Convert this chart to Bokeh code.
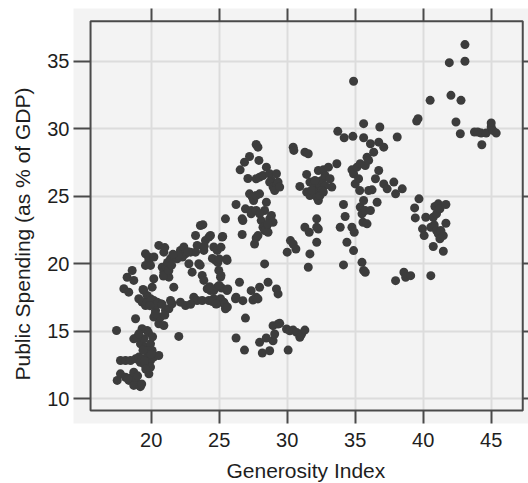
from bokeh.plotting import figure
from bokeh.models import FixedTicker, LinearAxis, BoxAnnotation, Range1d, Grid, Title
from bokeh.embed import file_html
from bokeh.resources import INLINE

generosity = [
    17.50, 17.74, 18.11, 18.36, 18.60, 18.72, 18.85, 19.09, 18.72, 17.74,
    18.11, 18.48, 18.85, 19.09, 19.33, 19.70, 19.95, 20.19, 20.56, 19.95,
    19.83, 19.46, 19.21, 19.46, 19.70, 19.33, 19.58, 19.95, 20.07, 19.70,
    18.72, 18.97, 19.09, 22.03, 17.45, 18.85, 19.20, 19.20, 19.50, 20.00,
    19.40, 19.80, 20.10, 19.60, 18.30, 19.00, 19.30,
    17.99, 18.35, 18.23, 18.60, 18.72, 19.46, 19.70, 19.95, 19.09, 19.33,
    19.58, 20.19, 20.44, 20.68, 20.32, 20.19, 20.56, 20.93, 20.68, 21.05,
    21.30, 21.54, 21.42, 22.15, 22.52, 19.58, 19.83, 19.58, 19.95, 20.07,
    20.19, 20.56, 20.93, 20.81, 20.93, 21.17, 21.30, 21.66, 21.42, 21.91,
    22.15, 22.40, 22.52, 22.89, 22.77, 23.01, 23.26, 23.38, 23.26, 23.62,
    23.87, 23.50, 23.75, 23.87, 23.99, 24.24, 24.36, 24.60, 24.85, 24.73,
    24.97, 25.10, 25.46, 25.22, 25.58, 23.13, 23.38, 23.75, 24.12, 24.36,
    24.60, 24.85, 24.24, 24.60, 24.85, 25.10, 25.46, 25.34, 25.58, 26.20,
    20.90, 21.10, 21.30, 21.20, 21.50, 19.70, 20.00, 20.40, 20.80, 19.90,
    21.00, 20.30, 24.30, 24.50, 25.20, 25.40, 25.60, 19.40, 19.80, 20.20,
    22.30, 22.00, 22.90, 23.60, 23.90, 24.50, 24.90, 25.00, 23.80, 21.00,
    21.60, 22.70, 25.13, 25.26, 25.13, 25.00, 25.55, 25.63, 24.76,
    26.24, 26.69, 26.74, 26.69, 26.54, 26.86, 27.23, 27.11, 26.93, 27.23,
    27.43, 27.35, 27.53, 27.72, 27.97, 27.35, 27.72, 27.60, 27.72, 27.85,
    27.72, 27.97, 28.22, 27.92, 27.72, 27.85, 28.47, 28.71, 28.84, 28.47,
    28.34, 27.97, 28.09, 28.47, 28.22, 28.34, 28.59, 28.71, 28.84, 28.96,
    28.59, 28.71, 28.96, 29.21, 29.33, 29.08, 29.45, 29.21,
    26.49, 26.24, 26.74, 27.35, 27.48, 27.72, 27.97, 27.85, 28.34, 28.59,
    29.21, 29.33, 26.93, 26.24, 26.86,
    27.97, 28.17, 28.46, 28.71, 28.96, 29.08, 28.96, 29.33, 29.45, 30.07,
    29.95, 30.19, 30.44, 30.69, 30.93, 31.06, 31.30,
    30.00, 30.24, 30.44, 30.64, 30.44, 30.49, 30.93, 31.30, 31.62, 31.67,
    31.55, 31.30, 31.55, 31.43, 31.43, 31.67, 32.17, 32.17, 32.17, 32.29,
    31.67, 31.92, 32.04, 32.17, 32.29, 32.41, 32.54, 32.29, 32.66, 32.78,
    33.03, 33.15, 33.28, 32.78, 32.54, 32.17, 32.29, 31.79, 32.04, 32.41,
    32.66,
    33.72, 33.65, 34.19, 34.83, 34.88, 33.90, 34.14, 34.26, 34.39, 34.14,
    34.76, 34.93, 34.88, 34.76, 34.88, 35.00, 35.13, 35.25, 35.33, 35.37,
    35.37, 35.50, 35.62, 35.57, 35.74, 35.87, 35.50, 35.62, 35.74, 35.62,
    35.62, 35.87, 35.74, 35.99, 35.99, 36.12, 36.24, 36.12, 36.36, 36.49,
    36.61, 36.73, 36.81, 36.73, 37.10, 37.10, 37.35, 37.84, 38.09, 37.97,
    38.46, 37.97, 38.58, 38.71, 39.08,
    39.52, 39.62, 39.37, 39.69, 39.42, 40.19, 39.95, 40.07, 40.56, 40.56,
    40.51, 40.74, 40.81, 40.98, 40.74, 40.86, 41.11, 41.23, 40.98, 41.11,
    41.30, 41.23, 41.48, 41.48, 41.67, 41.67,
    41.92, 42.04, 42.41, 42.73, 42.78, 43.07, 43.07, 43.77, 44.01, 44.26,
    44.31, 44.63, 45.00, 45.00, 45.12, 45.37,
]

spending = [
    11.36, 11.85, 11.60, 11.36, 11.60, 11.97, 11.36, 10.99, 10.99, 12.84,
    12.84, 12.84, 12.96, 13.09, 12.96, 13.09, 12.84, 13.09, 13.21, 12.35,
    11.85, 12.59, 14.07, 14.44, 15.06, 15.19, 13.83, 14.07, 13.58, 13.58,
    14.44, 14.57, 14.81, 14.62, 15.06, 15.93, 10.90, 12.70, 12.80, 13.30,
    13.60, 14.90, 14.60, 12.20, 11.50, 11.70, 11.10,
    18.15, 17.90, 19.00, 19.50, 18.77, 18.02, 17.65, 17.41, 17.41, 17.16,
    16.91, 17.28, 17.16, 17.04, 16.54, 16.05, 15.56, 15.43, 16.05, 16.54,
    16.67, 17.04, 17.28, 17.16, 16.91, 20.74, 20.25, 19.88, 19.88, 18.27,
    18.89, 21.36, 20.86, 19.75, 19.38, 19.63, 19.01, 18.27, 20.37, 20.37,
    20.99, 21.24, 20.74, 20.86, 20.00, 19.38, 20.86, 21.36, 22.10, 22.84,
    20.99, 20.00, 19.14, 18.77, 21.73, 21.98, 22.10, 21.24, 20.99, 20.25,
    19.51, 19.01, 23.33, 21.98, 20.25, 17.53, 17.28, 17.28, 18.15, 18.02,
    18.02, 18.27, 17.28, 17.41, 17.04, 17.41, 16.67, 17.16, 18.02, 17.41,
    19.10, 19.80, 19.50, 20.10, 19.90, 17.10, 17.30, 17.00, 17.00, 16.90,
    16.20, 16.30, 18.30, 17.20, 18.20, 17.00, 16.80, 18.10, 20.50, 20.50,
    20.50, 20.60, 17.00, 19.90, 21.30, 20.40, 20.10, 18.40, 22.90, 21.20,
    20.70, 20.90, 19.13, 22.02, 21.23, 20.36, 20.36, 18.14, 17.02,
    24.39, 22.17, 23.20, 23.33, 26.96, 27.53, 27.95, 26.32, 24.07, 25.18,
    24.94, 23.95, 24.69, 25.06, 25.18, 23.70, 23.95, 21.47, 21.92, 22.09,
    26.30, 26.42, 26.54, 27.66, 28.84, 28.64, 27.16, 26.67, 26.17, 24.56,
    23.95, 23.70, 23.20, 22.71, 22.71, 22.46, 22.34, 23.33, 23.58, 23.08,
    22.96, 26.05, 25.68, 25.80, 26.05, 25.43, 25.68, 26.67,
    18.63, 17.52, 17.27, 18.01, 17.32, 17.52, 18.26, 17.40, 19.99, 18.63,
    18.14, 17.77, 15.98, 14.50, 13.61,
    14.18, 13.39, 14.50, 13.56, 14.30, 14.80, 15.42, 15.54, 15.59, 13.61,
    15.17, 15.04, 15.09, 14.92, 14.55, 14.80, 15.09,
    20.86, 21.72, 21.47, 21.10, 28.64, 28.40, 25.73, 22.71, 22.34, 20.73,
    19.74, 28.27, 28.15, 26.62, 25.31, 25.06, 21.60, 22.71, 23.33, 22.58,
    26.05, 25.92, 25.68, 25.43, 26.05, 25.80, 26.17, 26.91, 26.96, 26.54,
    27.16, 26.30, 25.68, 25.80, 25.43, 24.94, 24.69, 25.43, 26.17, 25.06,
    25.31,
    29.81, 27.41, 29.34, 29.44, 33.52, 22.71, 24.39, 23.50, 21.60, 19.92,
    22.71, 22.34, 20.98, 26.96, 26.67, 25.92, 27.16, 26.30, 25.43, 27.41,
    24.20, 23.70, 24.69, 23.08, 23.95, 22.96, 20.11, 19.50, 19.37, 30.38,
    29.34, 27.90, 27.28, 27.66, 25.43, 28.89, 25.48, 23.95, 28.27, 26.30,
    24.56, 26.91, 30.13, 29.01, 28.64, 25.92, 25.55, 26.05, 29.39, 25.18,
    25.55, 18.75, 19.37, 19.00, 19.12,
    30.57, 30.75, 24.14, 24.81, 23.40, 23.45, 22.59, 22.09, 22.71, 19.12,
    32.11, 23.45, 22.88, 23.70, 21.28, 24.24, 24.44, 24.07, 22.46, 22.22,
    22.46, 21.85, 22.09, 20.93, 24.39, 23.00,
    34.90, 32.48, 30.50, 29.63, 32.11, 36.24, 35.00, 29.76, 29.76, 29.68,
    28.82, 29.68, 30.13, 30.43, 29.88, 29.68,
]

x_ticks = [20, 25, 30, 35, 40, 45]
y_ticks = [10, 15, 20, 25, 30, 35]
x_title = "Generosity Index"
y_title = "Public Spending (as % of GDP)"

FONT = "Liberation Sans"
INK = "#4a4a4a"
TXT = "#1e1e1e"

X0, X1 = 14.287, 47.743
Y0, Y1 = 8.170, 38.911

p = figure(width=528, height=483, output_backend="svg", toolbar_location=None,
           x_range=Range1d(X0, X1), y_range=Range1d(Y0, Y1),
           min_border_left=73, min_border_right=0, min_border_top=8,
           min_border_bottom=60,
           background_fill_color="#f3f3f3", border_fill_color="white",
           outline_line_color=None)

def style_axis(ax, tick_len, show_labels):
    ax.axis_line_color = None
    ax.minor_tick_line_color = None
    ax.major_tick_out = 0
    ax.major_tick_in = tick_len
    ax.major_tick_line_color = INK
    ax.major_tick_line_width = 2
    if show_labels:
        ax.major_label_text_font = FONT
        ax.major_label_text_font_size = "20px"
        ax.major_label_text_color = TXT
    else:
        ax.major_label_text_font_size = "0px"
        ax.major_label_standoff = 0

xb = p.xaxis[0]
xb.ticker = FixedTicker(ticks=x_ticks)
style_axis(xb, 13, True)
xb.major_label_standoff = 9

yl = p.yaxis[0]
yl.ticker = FixedTicker(ticks=y_ticks)
style_axis(yl, 17, True)
yl.major_label_standoff = 4

xt = LinearAxis(ticker=FixedTicker(ticks=x_ticks),
                major_label_overrides={t: "" for t in x_ticks})
style_axis(xt, 13, False)
p.add_layout(xt, "above")

yr = LinearAxis(ticker=FixedTicker(ticks=y_ticks),
                major_label_overrides={t: "" for t in y_ticks})
style_axis(yr, 6, False)
p.add_layout(yr, "right")

# invisible spacer between the x tick labels and the x title
spacer = LinearAxis(ticker=FixedTicker(ticks=x_ticks),
                    major_label_overrides={t: "" for t in x_ticks})
style_axis(spacer, 0, False)
spacer.major_tick_out = 7
spacer.major_tick_line_alpha = 0
p.add_layout(spacer, "below")

# inner panel limits (data units)
PL, PR, PB, PT = 15.54, 47.32, 9.13, 37.97

p.xgrid.ticker = FixedTicker(ticks=x_ticks)
p.ygrid.ticker = FixedTicker(ticks=y_ticks)
for g in (p.xgrid[0], p.ygrid[0]):
    g.grid_line_color = "#dcdcdc"
    g.grid_line_width = 2
if "cross_bounds" in Grid.properties():
    p.xgrid[0].cross_bounds = (PB, PT)
    p.ygrid[0].cross_bounds = (PL, PR)

p.scatter(generosity, spending, size=9, color="#3c3c3c", line_color=None)

p.add_layout(BoxAnnotation(left=PL, right=PR, bottom=PB, top=PT,
                           fill_color=None, fill_alpha=0,
                           line_color=INK, line_alpha=1, line_width=2))

# axis titles as side titles (offset-controlled)
p.add_layout(Title(text=x_title, align="left", offset=153, vertical_align="bottom",
                   standoff=0, text_font=FONT, text_font_size="21px",
                   text_font_style="normal", text_color=TXT), "below")
p.add_layout(Title(text=y_title, align="left", offset=43, vertical_align="top",
                   standoff=18, text_font=FONT, text_font_size="21px",
                   text_font_style="normal", text_color=TXT), "left")

open("out.html", "w").write(file_html(p, INLINE))
